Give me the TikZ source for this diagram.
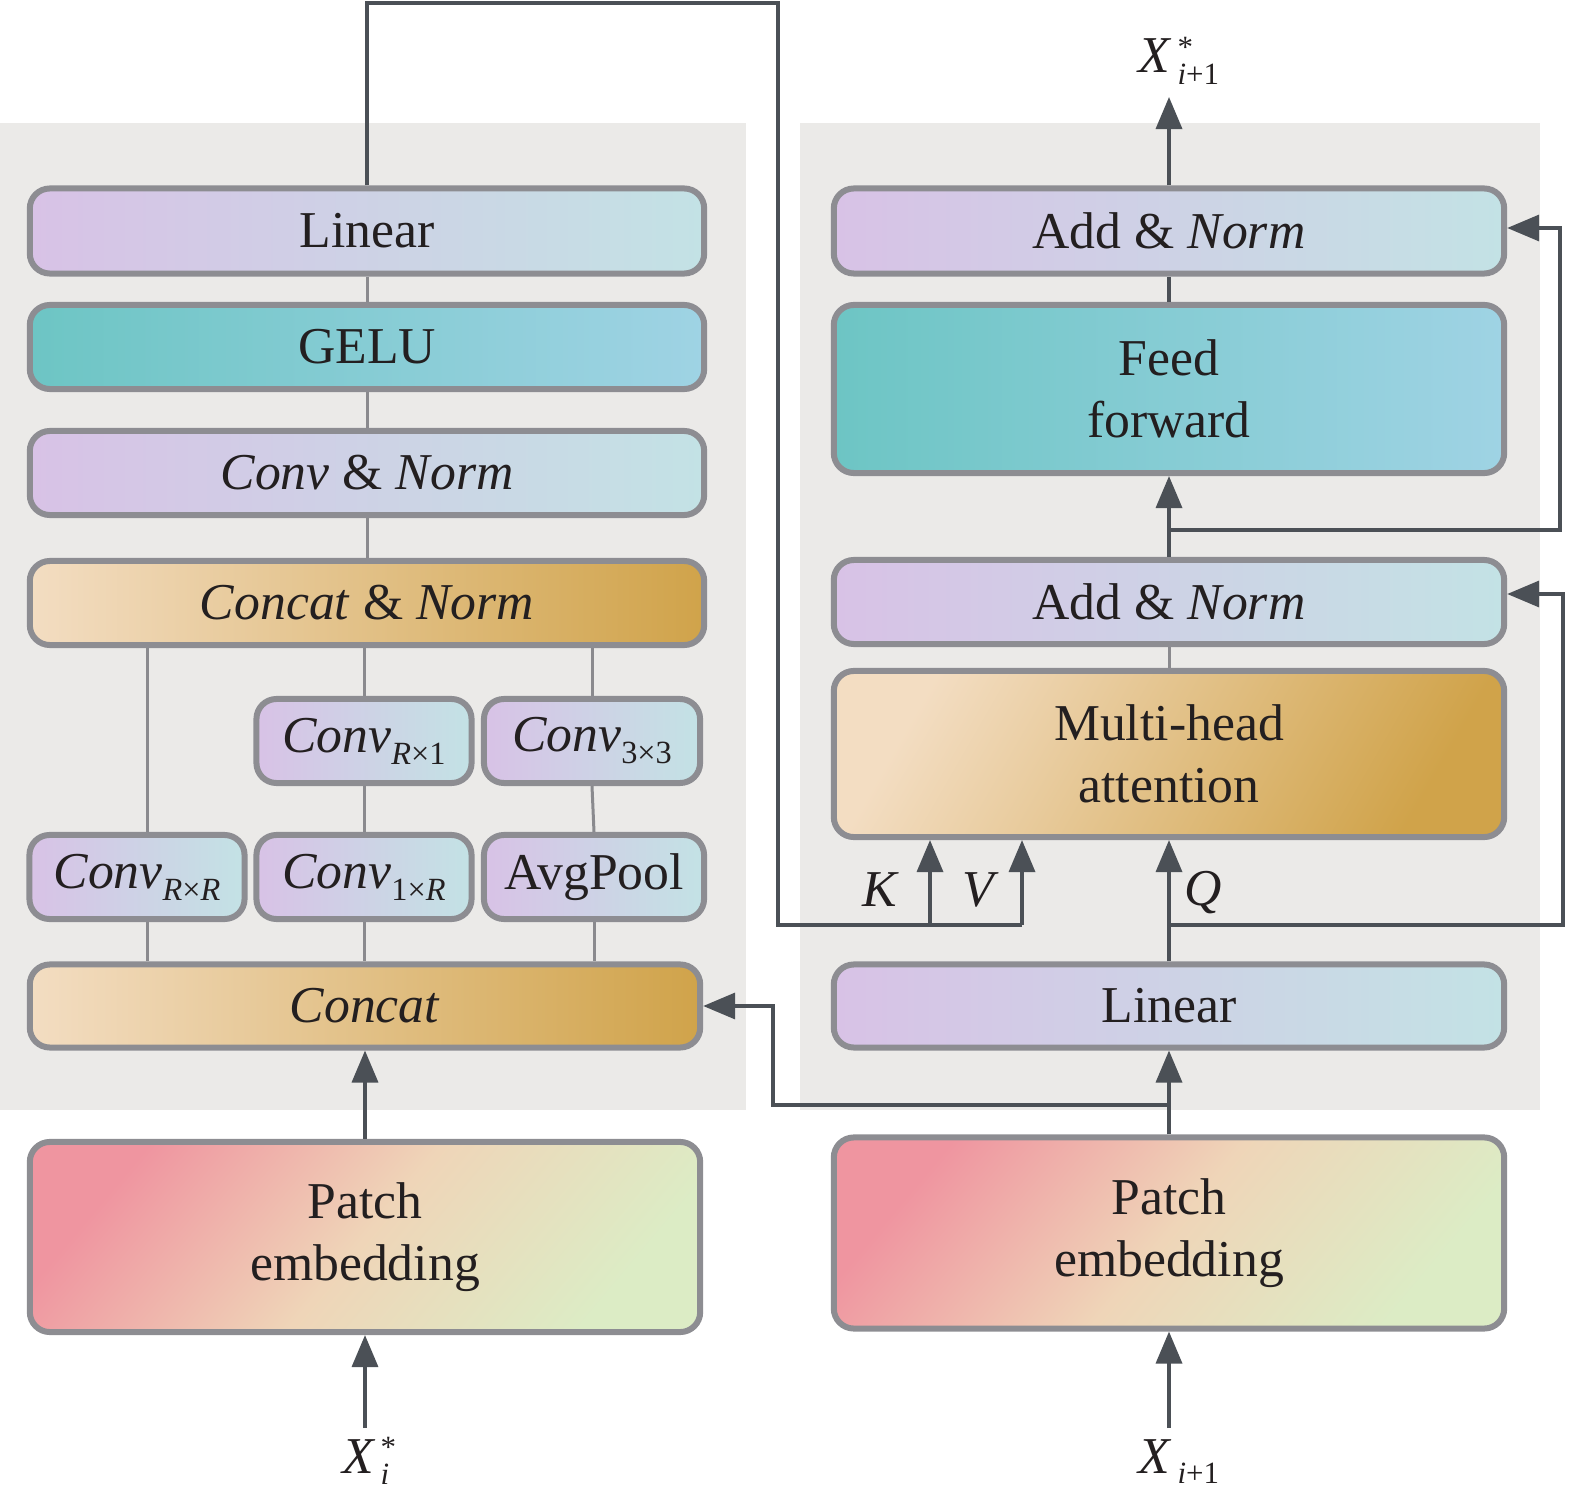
\documentclass[tikz,border=0pt]{standalone}
\usepackage{fontspec}
\setmainfont{Liberation Serif}
\usetikzlibrary{arrows.meta}
\definecolor{panel}{HTML}{EBEAE8}
\definecolor{bordergray}{HTML}{8D8D92}
\definecolor{linegray}{HTML}{8A8A8E}
\definecolor{dark}{HTML}{4B5056}
\definecolor{txt}{HTML}{231F20}
\definecolor{lavL}{HTML}{D8C2E6}
\definecolor{lavR}{HTML}{C3E2E5}
\definecolor{tealL}{HTML}{6DC5C4}
\definecolor{tealR}{HTML}{9FD3E4}
\definecolor{goldL}{HTML}{F3DDC2}
\definecolor{goldR}{HTML}{D0A34A}
\definecolor{patL}{HTML}{EF95A0}
\definecolor{patM}{HTML}{EFD5B8}
\definecolor{patR}{HTML}{DCECC5}
\newcommand{\mainfs}{\fontsize{14.7}{17.6}\selectfont}
\newcommand{\subfs}{\fontsize{9.2}{9.5}\selectfont}
\newcommand{\xfs}{\fontsize{8.8}{9}\selectfont}
\newcommand{\lowsub}[1]{\raisebox{-0.12cm}{\subfs #1}}
\newcommand{\convsub}[1]{\textit{Conv}\lowsub{#1}}
\newcommand{\supsub}[2]{\raisebox{-0.11cm}{\xfs\begin{tabular}[b]{@{}l@{}}#1\\[-1.6pt]#2\end{tabular}}}
\newcommand{\xsub}[1]{\raisebox{-0.10cm}{\xfs #1}}
\begin{document}
\begin{tikzpicture}[x=0.01cm,y=-0.01cm,
  box/.style={draw=bordergray, line width=0.06cm, rounded corners=0.2cm, inner sep=0pt, align=center, font=\mainfs, text=txt},
  lav/.style={box, left color=lavL, right color=lavR},
  tealbox/.style={box, left color=tealL, right color=tealR},
  gold/.style={box, left color=goldL, right color=goldR},
  goldd/.style={box, left color=goldL, right color=goldR, shading angle=60},
  pat/.style={box, left color=patL, right color=patR, middle color=patM, shading angle=50},
  gl/.style={draw=linegray, line width=0.03cm},
  dk/.style={draw=dark, line width=0.035cm},
  arr/.style={dk, -{Triangle[length=0.32cm,width=0.26cm]}},
  lbl/.style={font=\mainfs, text=txt, inner sep=1pt}]
\useasboundingbox (0,0) rectangle (1575,1494);
% panels
\fill[panel] (0,123) rectangle (746,1110);
\fill[panel] (800,123) rectangle (1540,1110);

% left column
\node[lav, minimum width=6.74cm, minimum height=0.85cm] (linL) at (367,231) {Linear};
\node[tealbox, minimum width=6.74cm, minimum height=0.84cm] (gelu) at (367,347) {GELU};
\node[lav, minimum width=6.74cm, minimum height=0.84cm] (convnorm) at (367,473) {\textit{Conv} \& \textit{Norm}};
\node[gold, minimum width=6.74cm, minimum height=0.84cm] (catnorm) at (367,603) {\textit{Concat} \& \textit{Norm}};
\node[lav, minimum width=2.15cm, minimum height=0.84cm] (convR1) at (364,741) {\convsub{\textit{R}×1}};
\node[lav, minimum width=2.16cm, minimum height=0.84cm] (conv33) at (592,741) {\convsub{3×3}};
\node[lav, minimum width=2.15cm, minimum height=0.84cm] (convRR) at (137,877) {\convsub{\textit{R}×\textit{R}}};
\node[lav, minimum width=2.15cm, minimum height=0.84cm] (conv1R) at (364,877) {\convsub{1×\textit{R}}};
\node[lav, minimum width=2.20cm, minimum height=0.84cm] (avgpool) at (594,877) {AvgPool};
\node[gold, minimum width=6.70cm, minimum height=0.83cm] (concat) at (365,1006) {\textit{Concat}};
\node[pat, minimum width=6.70cm, minimum height=1.90cm] (patchL) at (365,1237) {Patch\\embedding};
\node[lbl, anchor=base] (xi) at (369,1473) {\textit{X}\kern1.5pt\supsub{*}{\textit{i}}};

% right column
\node[lav, minimum width=6.70cm, minimum height=0.85cm] (an1) at (1169,231) {Add \& \textit{Norm}};
\node[tealbox, minimum width=6.70cm, minimum height=1.68cm] (ff) at (1169,389) {Feed\\forward};
\node[lav, minimum width=6.70cm, minimum height=0.84cm] (an2) at (1169,602) {Add \& \textit{Norm}};
\node[goldd, minimum width=6.70cm, minimum height=1.66cm] (mha) at (1169,754) {Multi-head\\attention};
\node[lav, minimum width=6.70cm, minimum height=0.83cm] (linR) at (1169,1006) {Linear};
\node[pat, minimum width=6.70cm, minimum height=1.91cm] (patchR) at (1169,1233) {Patch\\embedding};
\node[lbl, anchor=base] (xin) at (1179,1473) {\textit{X}\kern1.5pt\xsub{\textit{i}+1}};
\node[lbl, anchor=base] (xout) at (1179,73) {\textit{X}\kern1.5pt\supsub{*}{\textit{i}+1}};

% K V Q labels
\node[lbl] (klab) at (881,890) {\textit{K}};
\node[lbl] (vlab) at (981,890) {\textit{V}};
\node[lbl] (qlab) at (1203,893) {\textit{Q}};

% coordinates
\coordinate (tl) at (367,3);
\coordinate (tr) at (778,3);
\coordinate (kvl) at (778,925);
\coordinate (kx) at (930,925);
\coordinate (vx) at (1022,925);
\coordinate (pr) at (1169,1105);
\coordinate (prl) at (773,1105);
\coordinate (prl2) at (773,1006);
\coordinate (q) at (1169,925);
\coordinate (qr) at (1563,925);
\coordinate (qr2) at (1563,594);
\coordinate (f) at (1169,530);
\coordinate (fr) at (1560,530);
\coordinate (fr2) at (1560,228);
\coordinate (outtip) at (1169,97);
\coordinate (inL) at (365,1428);
\coordinate (inR) at (1169,1428);

% left thin connectors
\draw[gl] (linL.south) -- (gelu.north);
\draw[gl] (gelu.south) -- (convnorm.north);
\draw[gl] (convnorm.south) -- (catnorm.north);
\draw[gl] (convR1.north) -- (convR1.north |- catnorm.south);
\draw[gl] (conv33.north) -- (conv33.north |- catnorm.south);
\draw[gl] ([xshift=0.1cm]convRR.north) -- ([xshift=0.1cm]convRR.north |- catnorm.south);
\draw[gl] (convR1.south) -- (conv1R.north);
\draw[gl] (conv33.south) -- (avgpool.north);
\draw[gl] ([xshift=0.1cm]convRR.south) -- ([xshift=0.1cm]convRR.south |- concat.north);
\draw[gl] (conv1R.south) -- (conv1R.south |- concat.north);
\draw[gl] (avgpool.south) -- (avgpool.south |- concat.north);

% left arrows
\draw[arr] (inL) -- (patchL.south);
\draw[arr] (patchL.north) -- (concat.south);

% long connector from Linear to K, V
\draw[dk] (linL.north) -- (tl) -- (tr) -- (kvl) -- (vx);
\draw[arr] (kx) -- (kx |- mha.south);
\draw[arr] (vx) -- (vx |- mha.south);

% right connectors
\draw[arr] (inR) -- (patchR.south);
\draw[arr] (patchR.north) -- (linR.south);
\draw[arr] (pr) -- (prl) -- (prl2) -- (concat.east);
\draw[arr] (linR.north) -- (mha.south);
\draw[arr] (q) -- (qr) -- (qr2) -- (qr2 -| an2.east);
\draw[gl] (mha.north) -- (an2.south);
\draw[arr] (an2.north) -- (ff.south);
\draw[arr] (f) -- (fr) -- (fr2) -- (fr2 -| an1.east);
\draw[dk] (ff.north) -- (an1.south);
\draw[arr] (an1.north) -- (outtip);
\end{tikzpicture}
\end{document}
